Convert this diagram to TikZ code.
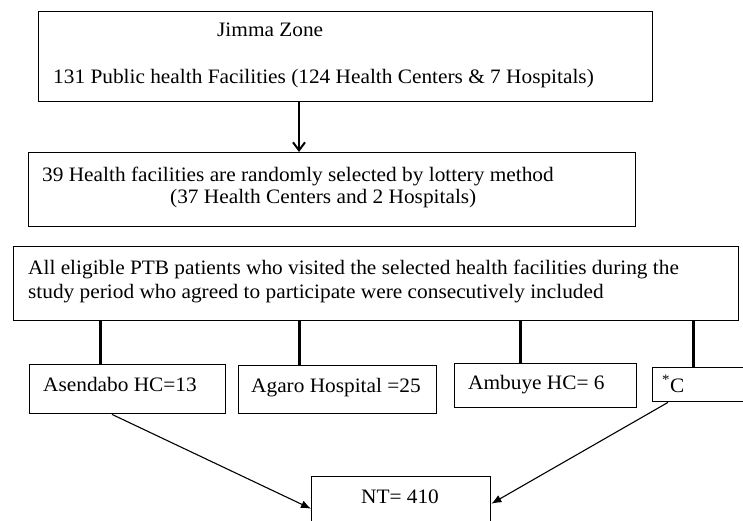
\documentclass[tikz,border=0pt]{standalone}
\usepackage{fontspec}
\setmainfont[FakeStretch=1.04]{Liberation Serif}
\usetikzlibrary{arrows.meta}
\begin{document}
\begin{tikzpicture}[x=1pt,y=-1pt,
  box/.style={draw, line width=1.4pt, inner sep=0pt, anchor=north west},
  txt/.style={anchor=base west, inner sep=0pt, font=\fontsize{20.5}{24}\selectfont},
  stem/.style={line width=3pt},
  downarrow/.style={line width=2pt, -{Straight Barb[length=8pt,width=12pt,line width=2pt]}},
  diag/.style={line width=1.1pt, -{Latex[length=10pt,width=8pt]}}]
\useasboundingbox (0,0) rectangle (743,521);
\clip (0,0) rectangle (743,521);
% boxes
\node[box, minimum width=614pt, minimum height=90pt] (b1) at (38,11) {};
\node[box, minimum width=607pt, minimum height=74pt] (b2) at (28,152) {};
\node[box, minimum width=725pt, minimum height=74pt] (b3) at (13,246) {};
\node[box, minimum width=196pt, minimum height=49pt] (ba) at (29,364) {};
\node[box, minimum width=198pt, minimum height=48pt] (bb) at (238,365) {};
\node[box, minimum width=182pt, minimum height=44pt] (bc) at (454,363) {};
\node[box, minimum width=118pt, minimum height=34pt] (bd) at (652,367) {};
\node[box, minimum width=179pt, minimum height=64pt] (nt) at (311,476) {};
% texts
\node[txt] (t1a) at (217,37) {Jimma Zone};
\node[txt] (t1b) at (53,84) {131 Public health Facilities (124 Health Centers \& 7 Hospitals)};
\node[txt] (t2a) at (42,182) {39 Health facilities are randomly selected by lottery method};
\node[txt] (t2b) at (170,204) {(37 Health Centers and 2 Hospitals)};
\node[txt] (t3a) at (28,274) {All eligible PTB patients who visited the selected health facilities during the};
\node[txt] (t3b) at (28,298) {study period who agreed to participate were consecutively included};
\node[txt] (ta) at (43,391) {Asendabo HC=13};
\node[txt] (tb) at (251,392) {Agaro Hospital =25};
\node[txt] (tc) at (468,389) {Ambuye HC= 6};
\node[txt] (td) at (662,392) {\textsuperscript{*}C};
\node[txt, anchor=base] (tn) at (400,503) {NT= 410};
% connector positions
\coordinate (x0) at (299,0);
\coordinate (x1) at (100,0);
\coordinate (x2) at (299,0);
\coordinate (x3) at (520,0);
\coordinate (x4) at (693,0);
\coordinate (xa) at (112,0);
\coordinate (xd) at (668,0);
% connectors
\draw[downarrow] (b1.south -| x0) -- (b2.north -| x0);
\draw[stem] (b3.south -| x1) -- (ba.north -| x1);
\draw[stem] (b3.south -| x2) -- (bb.north -| x2);
\draw[stem] (b3.south -| x3) -- (bc.north -| x3);
\draw[stem] (b3.south -| x4) -- (bd.north -| x4);
\draw[diag] (ba.south -| xa) -- (nt.west);
\draw[diag] (bd.south -| xd) -- ([yshift=5pt]nt.east);
\end{tikzpicture}
\end{document}
